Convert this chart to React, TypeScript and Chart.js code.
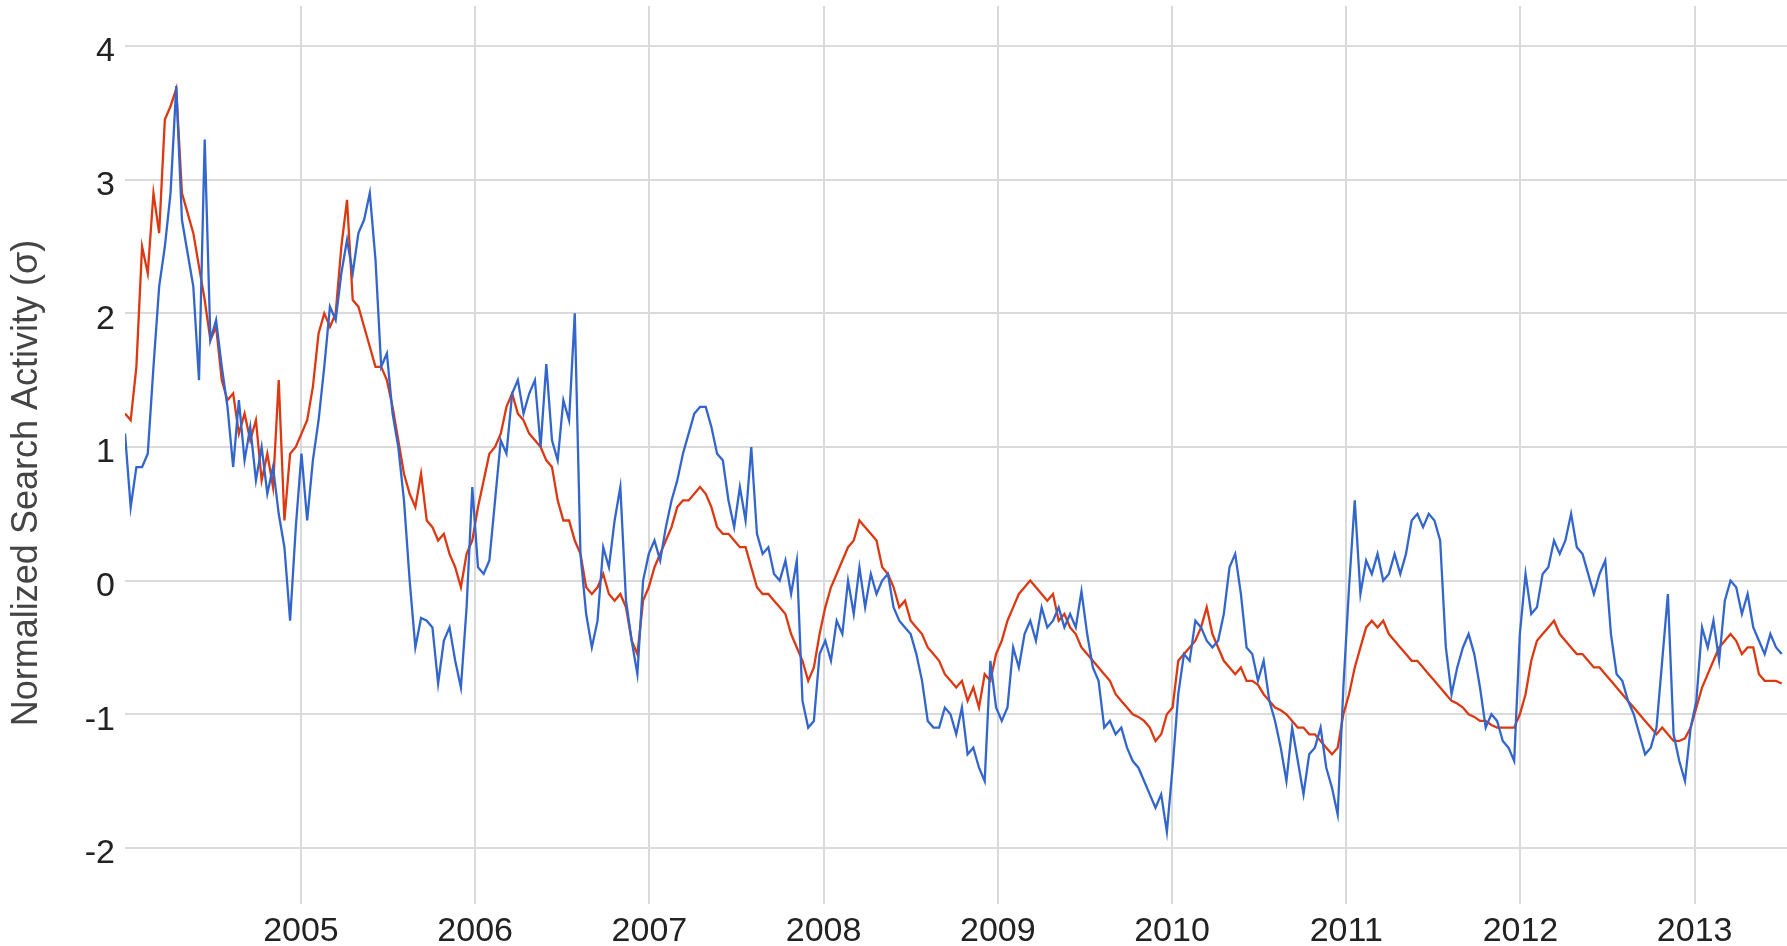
import React, { useEffect, useRef } from "react";
import { Chart, registerables } from "chart.js";

Chart.register(...registerables);

// Sampling: first sample date (decimal year) and spacing (~12 days)
const START_YEAR = 2003.99;
const STEP_YEARS = 0.03268;

const X_MIN = 2003.99;
const X_MAX = 2013.53;
const Y_MIN = -2.42;
const Y_MAX = 4.3;

const YEAR_TICKS = [2005, 2006, 2007, 2008, 2009, 2010, 2011, 2012, 2013];
const VALUE_TICKS = [-2, -1, 0, 1, 2, 3, 4];

const Y_TITLE = "Normalized Search Activity (σ)";

const BLUE_SERIES = [
  1.1, 0.55, 0.85, 0.85, 0.95, 1.6, 2.2, 2.5, 2.9, 3.7,
  2.7, 2.45, 2.2, 1.5, 3.3, 1.8, 1.95, 1.6, 1.3, 0.85,
  1.35, 0.9, 1.15, 0.75, 1.0, 0.65, 0.85, 0.5, 0.25, -0.3,
  0.4, 0.95, 0.45, 0.9, 1.2, 1.6, 2.05, 1.95, 2.3, 2.55,
  2.3, 2.6, 2.7, 2.9, 2.4, 1.6, 1.7, 1.25, 1.0, 0.6,
  0.0, -0.5, -0.28, -0.3, -0.35, -0.77, -0.45, -0.35, -0.6, -0.8,
  -0.2, 0.7, 0.1, 0.05, 0.15, 0.6, 1.05, 0.95, 1.4, 1.5,
  1.25, 1.4, 1.5, 1.0, 1.62, 1.05, 0.9, 1.35, 1.2, 2.0,
  0.2, -0.25, -0.5, -0.3, 0.25, 0.1, 0.45, 0.7, -0.15, -0.45,
  -0.7, 0.0, 0.2, 0.3, 0.15, 0.4, 0.6, 0.75, 0.95, 1.1,
  1.25, 1.3, 1.3, 1.15, 0.95, 0.9, 0.6, 0.4, 0.7, 0.45,
  1.0, 0.35, 0.2, 0.25, 0.05, 0.0, 0.15, -0.1, 0.15, -0.9,
  -1.1, -1.05, -0.55, -0.45, -0.6, -0.3, -0.4, 0.0, -0.25, 0.1,
  -0.2, 0.05, -0.1, 0.0, 0.05, -0.2, -0.3, -0.35, -0.4, -0.55,
  -0.75, -1.05, -1.1, -1.1, -0.95, -1.0, -1.15, -0.95, -1.3, -1.25,
  -1.4, -1.5, -0.6, -0.95, -1.05, -0.95, -0.5, -0.65, -0.4, -0.3,
  -0.45, -0.2, -0.35, -0.3, -0.2, -0.35, -0.25, -0.35, -0.08, -0.4,
  -0.65, -0.75, -1.1, -1.05, -1.15, -1.1, -1.25, -1.35, -1.4, -1.5,
  -1.6, -1.7, -1.6, -1.88, -1.4, -0.85, -0.55, -0.6, -0.3, -0.35,
  -0.45, -0.5, -0.45, -0.25, 0.1, 0.2, -0.1, -0.5, -0.55, -0.75,
  -0.6, -0.9, -1.05, -1.25, -1.5, -1.1, -1.35, -1.6, -1.3, -1.25,
  -1.1, -1.4, -1.55, -1.75, -0.8, -0.05, 0.6, -0.1, 0.15, 0.05,
  0.2, 0.0, 0.05, 0.2, 0.05, 0.2, 0.45, 0.5, 0.4, 0.5,
  0.45, 0.3, -0.5, -0.85, -0.65, -0.5, -0.4, -0.55, -0.8, -1.1,
  -1.0, -1.05, -1.2, -1.25, -1.35, -0.4, 0.05, -0.25, -0.2, 0.05,
  0.1, 0.3, 0.2, 0.3, 0.5, 0.25, 0.2, 0.05, -0.1, 0.05,
  0.15, -0.4, -0.7, -0.75, -0.9, -1.0, -1.15, -1.3, -1.25, -1.1,
  -0.6, -0.1, -1.15, -1.35, -1.5, -1.1, -0.9, -0.35, -0.5, -0.3,
  -0.6, -0.15, 0.0, -0.05, -0.25, -0.1, -0.35, -0.45, -0.55, -0.4,
  -0.5, -0.55,
];

const RED_SERIES = [
  1.25, 1.2, 1.6, 2.5, 2.3, 2.9, 2.6, 3.45, 3.55, 3.68,
  2.9, 2.75, 2.6, 2.35, 2.1, 1.8, 1.9, 1.5, 1.35, 1.4,
  1.1, 1.25, 1.05, 1.2, 0.75, 0.95, 0.7, 1.5, 0.45, 0.95,
  1.0, 1.1, 1.2, 1.45, 1.85, 2.0, 1.9, 2.0, 2.5, 2.85,
  2.1, 2.05, 1.9, 1.75, 1.6, 1.6, 1.5, 1.3, 1.05, 0.8,
  0.65, 0.55, 0.8, 0.45, 0.4, 0.3, 0.35, 0.2, 0.1, -0.05,
  0.2, 0.3, 0.55, 0.75, 0.95, 1.0, 1.1, 1.3, 1.4, 1.25,
  1.2, 1.1, 1.05, 1.0, 0.9, 0.85, 0.6, 0.45, 0.45, 0.3,
  0.2, -0.05, -0.1, -0.05, 0.05, -0.1, -0.15, -0.1, -0.2, -0.45,
  -0.55, -0.15, -0.05, 0.1, 0.2, 0.3, 0.4, 0.55, 0.6, 0.6,
  0.65, 0.7, 0.65, 0.55, 0.4, 0.35, 0.35, 0.3, 0.25, 0.25,
  0.1, -0.05, -0.1, -0.1, -0.15, -0.2, -0.25, -0.4, -0.5, -0.6,
  -0.75, -0.65, -0.4, -0.2, -0.05, 0.05, 0.15, 0.25, 0.3, 0.45,
  0.4, 0.35, 0.3, 0.1, 0.05, -0.05, -0.2, -0.15, -0.3, -0.35,
  -0.4, -0.5, -0.55, -0.6, -0.7, -0.75, -0.8, -0.75, -0.9, -0.8,
  -0.95, -0.7, -0.75, -0.55, -0.45, -0.3, -0.2, -0.1, -0.05, 0.0,
  -0.05, -0.1, -0.15, -0.1, -0.3, -0.25, -0.35, -0.4, -0.5, -0.55,
  -0.6, -0.65, -0.7, -0.75, -0.85, -0.9, -0.95, -1.0, -1.02, -1.05,
  -1.1, -1.2, -1.15, -1.0, -0.95, -0.6, -0.55, -0.5, -0.45, -0.35,
  -0.2, -0.4, -0.5, -0.6, -0.65, -0.7, -0.65, -0.75, -0.75, -0.78,
  -0.85, -0.9, -0.95, -0.97, -1.0, -1.05, -1.1, -1.1, -1.15, -1.15,
  -1.2, -1.25, -1.3, -1.25, -1.0, -0.85, -0.65, -0.5, -0.35, -0.3,
  -0.35, -0.3, -0.4, -0.45, -0.5, -0.55, -0.6, -0.6, -0.65, -0.7,
  -0.75, -0.8, -0.85, -0.9, -0.92, -0.95, -1.0, -1.02, -1.05, -1.05,
  -1.08, -1.1, -1.1, -1.1, -1.1, -1.0, -0.85, -0.6, -0.45, -0.4,
  -0.35, -0.3, -0.4, -0.45, -0.5, -0.55, -0.55, -0.6, -0.65, -0.65,
  -0.7, -0.75, -0.8, -0.85, -0.9, -0.95, -1.0, -1.05, -1.1, -1.15,
  -1.1, -1.15, -1.2, -1.2, -1.18, -1.1, -0.95, -0.8, -0.7, -0.6,
  -0.5, -0.45, -0.4, -0.45, -0.55, -0.5, -0.5, -0.7, -0.75, -0.75,
  -0.75, -0.77,
];

const BLUE = "#3366cc";
const RED = "#dc3912";
const GRID = "#dadada";
const FONT = "Arial, 'Liberation Sans', sans-serif";

function toPoints(values: number[]) {
  return values.map((v, i) => ({ x: START_YEAR + i * STEP_YEARS, y: v }));
}

// Draws the vertical axis title, centred a little below the plot middle as in the reference
const yTitlePlugin = {
  id: "yTitle",
  afterDraw(chart: any) {
    const { ctx, chartArea } = chart;
    ctx.save();
    ctx.font = `36px ${FONT}`;
    ctx.fillStyle = "#444";
    ctx.textAlign = "center";
    ctx.textBaseline = "middle";
    ctx.translate(27, (chartArea.top + chartArea.bottom) / 2 + 28);
    ctx.rotate(-Math.PI / 2);
    ctx.fillText(Y_TITLE, 0, 0);
    ctx.restore();
  },
};

export default function App() {
  const ref = useRef<HTMLCanvasElement | null>(null);

  useEffect(() => {
    if (!ref.current) return;
    const chart = new Chart(ref.current, {
      type: "line",
      data: {
        datasets: [
          {
            label: "Blue",
            data: toPoints(BLUE_SERIES),
            borderColor: BLUE,
            backgroundColor: BLUE,
            borderWidth: 2.3,
            pointRadius: 0,
            tension: 0,
          },
          {
            label: "Red",
            data: toPoints(RED_SERIES),
            borderColor: RED,
            backgroundColor: RED,
            borderWidth: 2.3,
            pointRadius: 0,
            tension: 0,
          },
        ],
      },
      options: {
        animation: false,
        responsive: false,
        maintainAspectRatio: false,
        layout: { padding: { top: 6, left: 0, right: 0, bottom: 0 } },
        plugins: {
          legend: { display: false },
          tooltip: { enabled: false },
          title: { display: false },
        },
        scales: {
          x: {
            type: "linear",
            min: X_MIN,
            max: X_MAX,
            border: { display: false },
            grid: { color: GRID, lineWidth: 2, drawTicks: false },
            afterBuildTicks: (scale: any) => {
              scale.ticks = YEAR_TICKS.map((v) => ({ value: v }));
            },
            afterFit: (scale: any) => {
              scale.height = 42;
              scale.paddingLeft = 0;
              scale.paddingRight = 0;
            },
            ticks: {
              includeBounds: false,
              autoSkip: false,
              maxRotation: 0,
              padding: 7,
              color: "#222",
              font: { family: FONT, size: 34 },
              callback: (v: any) => String(v),
            },
          },
          y: {
            type: "linear",
            min: Y_MIN,
            max: Y_MAX,
            border: { display: false },
            grid: { color: GRID, lineWidth: 2, drawTicks: false },
            afterBuildTicks: (scale: any) => {
              scale.ticks = VALUE_TICKS.map((v) => ({ value: v }));
            },
            afterFit: (scale: any) => {
              scale.width = 125;
              scale.paddingTop = 0;
              scale.paddingBottom = 0;
            },
            title: { display: false },
            ticks: {
              includeBounds: false,
              padding: 10,
              labelOffset: 6,
              color: "#222",
              font: { family: FONT, size: 34 },
              callback: (v: any) => String(v),
            },
          },
        },
      },
      plugins: [yTitlePlugin],
    });
    return () => chart.destroy();
  }, []);

  return (
    <div style={{ position: "fixed", left: 0, top: 0, width: 1787, height: 946, background: "#fff" }}>
      <canvas ref={ref} width={1787} height={946} />
    </div>
  );
}
